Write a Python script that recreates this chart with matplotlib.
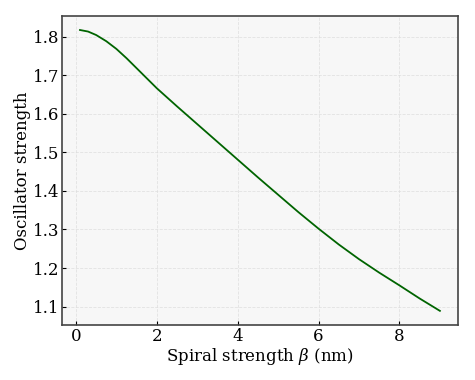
import matplotlib
matplotlib.use("Agg")
import matplotlib.pyplot as plt

# spiral strength beta (nm) and oscillator strength
beta = [0.1, 0.3, 0.5, 0.75, 1.0, 1.25, 1.5, 1.75, 2.0, 2.5, 3.0, 3.5, 4.0, 4.5, 5.0,
        5.5, 6.0, 6.5, 7.0, 7.5, 8.0, 8.5, 9.0]
osc = [1.817, 1.813, 1.804, 1.788, 1.768, 1.744, 1.718, 1.692, 1.666, 1.619, 1.573,
       1.527, 1.481, 1.435, 1.390, 1.345, 1.302, 1.261, 1.223, 1.188, 1.155, 1.121, 1.089]

plt.rcParams['font.family'] = 'DejaVu Serif'
plt.rcParams['mathtext.fontset'] = 'dejavuserif'

fig = plt.figure(figsize=(4.75, 3.8), dpi=100)
ax = fig.add_axes([0.1305, 0.145, 0.8335, 0.813])
ax.set_facecolor('#f7f7f7')
ax.plot(beta, osc, color='#006400', lw=1.3)
ax.grid(True, linestyle='--', color='#dddddd', lw=0.6, alpha=0.8)
ax.set_xlabel(r'Spiral strength $\beta$ (nm)', fontsize=12, labelpad=1)
ax.set_ylabel('Oscillator strength', fontsize=12, labelpad=1)
ax.tick_params(direction='in', labelsize=12, length=3, pad=2)
for s in ax.spines.values():
    s.set_color('#444444')
    s.set_linewidth(1.2)
ax.set_xticks([0, 2, 4, 6, 8])
ax.set_yticks([1.1, 1.2, 1.3, 1.4, 1.5, 1.6, 1.7, 1.8])

fig.savefig('out.png', dpi=100)
